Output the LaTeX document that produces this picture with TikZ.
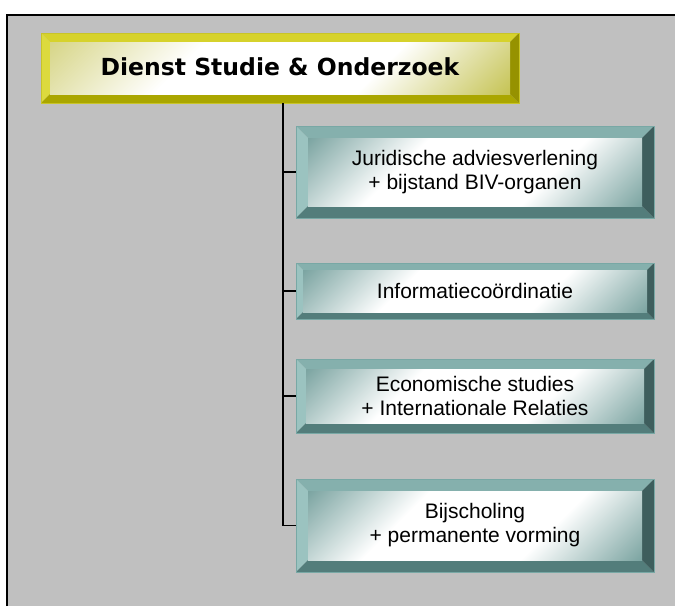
\documentclass[tikz,border=0pt]{standalone}
\usepackage{fontspec}
\setmainfont{Liberation Sans}
\newfontfamily\titlefont{DejaVu Sans}

\definecolor{paper}{RGB}{192,192,192}
\definecolor{tealtop}{RGB}{133,176,173}
\definecolor{tealleft}{RGB}{155,195,192}
\definecolor{tealbot}{RGB}{83,125,123}
\definecolor{tealright}{RGB}{62,94,93}
\definecolor{tealtint}{RGB}{120,162,159}
\definecolor{tealedge}{RGB}{120,168,165}
\definecolor{yeltop}{RGB}{214,210,44}
\definecolor{yelleft}{RGB}{220,218,62}
\definecolor{yelbot}{RGB}{170,166,0}
\definecolor{yelright}{RGB}{150,146,0}
\definecolor{yeltint}{RGB}{196,194,80}
\definecolor{yeledge}{RGB}{200,196,40}

% corner glow: tint in two opposite corners, white across the middle
\pgfdeclarehorizontalshading{tealglow}{100bp}{color(0bp)=(tealtint); color(14bp)=(tealtint);
  color(36bp)=(white); color(64bp)=(white); color(86bp)=(tealtint); color(100bp)=(tealtint)}
\pgfdeclarehorizontalshading{yelglow}{100bp}{color(0bp)=(yeltint); color(14bp)=(yeltint);
  color(36bp)=(white); color(64bp)=(white); color(86bp)=(yeltint!70!white); color(100bp)=(yeltint!70!white)}

\tikzset{
  bevel/.store in=\bevelw, bevel=10,
  bevelbox/.style n args={5}{path picture={
    \coordinate (bnw) at (path picture bounding box.north west);
    \coordinate (bne) at (path picture bounding box.north east);
    \coordinate (bsw) at (path picture bounding box.south west);
    \coordinate (bse) at (path picture bounding box.south east);
    \fill[#1] (bnw) -- (bne) -- ([xshift=-\bevelw pt,yshift=-\bevelw pt]bne) -- ([xshift=\bevelw pt,yshift=-\bevelw pt]bnw) -- cycle;
    \fill[#2] (bnw) -- ([xshift=\bevelw pt,yshift=-\bevelw pt]bnw) -- ([xshift=\bevelw pt,yshift=\bevelw pt]bsw) -- (bsw) -- cycle;
    \fill[#3] (bsw) -- (bse) -- ([xshift=-\bevelw pt,yshift=\bevelw pt]bse) -- ([xshift=\bevelw pt,yshift=\bevelw pt]bsw) -- cycle;
    \fill[#4] (bne) -- (bse) -- ([xshift=-\bevelw pt,yshift=\bevelw pt]bse) -- ([xshift=-\bevelw pt,yshift=-\bevelw pt]bne) -- cycle;
    \shade[shading=#5, shading angle=135]
      ([xshift=\bevelw pt,yshift=-\bevelw pt]bnw) rectangle ([xshift=-\bevelw pt,yshift=\bevelw pt]bse);
  }},
  unitbox/.style={bevelbox={tealtop}{tealleft}{tealbot}{tealright}{tealglow},
    draw=tealedge, line width=0.8pt, minimum width=358pt, inner sep=0pt,
    align=center, font=\fontsize{21}{24}\selectfont},
  titlebox/.style={bevelbox={yeltop}{yelleft}{yelbot}{yelright}{yelglow},
    draw=yeledge, line width=0.8pt, minimum width=478pt, minimum height=70pt,
    inner sep=0pt, font=\titlefont\bfseries\fontsize{23.5}{28}\selectfont},
  link/.style={line width=1.6pt}
}

\begin{document}
\begin{tikzpicture}[x=1pt, y=-1pt]
	\useasboundingbox (0, 0) rectangle (675, 606);
	\fill[paper] (7, 15) rectangle (675, 606);
	\draw[line width=2pt] (7, 606) -- (7, 15) -- (675, 15);

	\node[titlebox, bevel=9] (title) at (280, 68) {\raisebox{3pt}{Dienst Studie \& Onderzoek}};

	\node[unitbox, bevel=12, minimum height=92pt] (jur) at (475, 172) {Juridische adviesverlening\\+ bijstand BIV-organen};
	\node[unitbox, bevel=7, minimum height=56pt] (info) at (475, 291) {Informatieco\"ordinatie};
	\node[unitbox, bevel=10, minimum height=74pt] (eco) at (475, 396) {Economische studies\\+ Internationale Relaties};
	\node[unitbox, bevel=12, minimum height=93pt] (bij) at (475, 525.5) {Bijscholing\\+ permanente vorming};

	\coordinate (trunk) at (283, 0);
	\draw[link] (title.south -| trunk) -- (trunk |- bij.west) -- (bij.west);
	\draw[link] (trunk |- jur.west) -- (jur.west);
	\draw[link] (trunk |- info.west) -- (info.west);
	\draw[link] (trunk |- eco.west) -- (eco.west);
\end{tikzpicture}
\end{document}
